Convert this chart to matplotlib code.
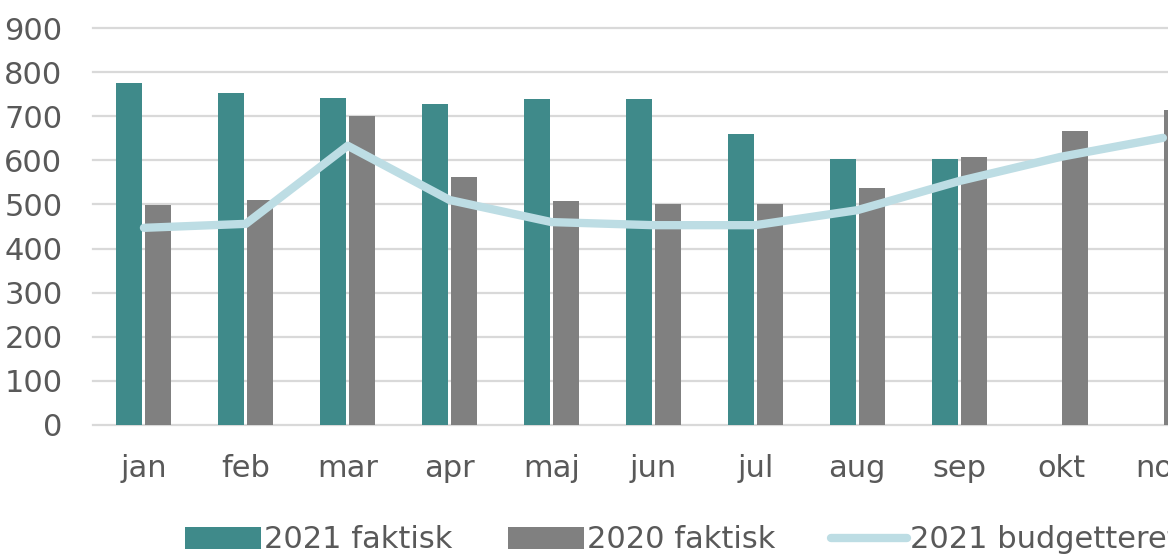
import matplotlib
matplotlib.use("Agg")
import matplotlib.pyplot as plt
import numpy as np

months = ['jan', 'feb', 'mar', 'apr', 'maj', 'jun', 'jul', 'aug', 'sep', 'okt', 'nov']
faktisk_2021 = [775, 753, 741, 728, 739, 739, 660, 603, 603, np.nan, np.nan]
faktisk_2020 = [499, 510, 700, 562, 508, 501, 501, 537, 608, 667, 714]
budget_2021 = [447, 456, 633, 510, 460, 453, 453, 487, 553, 608, 651]

teal = '#3F8A8A'
grey = '#808080'
light = '#BDDDE4'
txt = '#595959'

plt.rcParams['font.family'] = 'DejaVu Sans'
plt.rcParams['font.size'] = 22

fig = plt.figure(figsize=(11.68, 5.58), dpi=100)
ax = fig.add_axes([93/1168, 1 - 425/558, 1 - 93/1168, (425 - 28)/558])

x = np.arange(len(months))
w = 0.255
b1 = ax.bar(x - 0.142, faktisk_2021, w, color=teal, label='2021 faktisk', zorder=2)
b2 = ax.bar(x + 0.142, faktisk_2020, w, color=grey, label='2020 faktisk', zorder=2)
l1, = ax.plot(x, budget_2021, color=light, lw=6, solid_capstyle='round',
              label='2021 budgetteret', zorder=3)

ax.set_ylim(0, 900)
ax.set_xlim(-0.5, 10.05)
ax.set_yticks(range(0, 901, 100))
ax.set_xticks(x)
ax.set_xticklabels(months)
ax.grid(axis='y', color='#D9D9D9', lw=1.6, zorder=0)
for gl in ax.get_ygridlines():
    gl.set_clip_on(False)
ax.set_axisbelow(True)
for s in ax.spines.values():
    s.set_visible(False)
ax.tick_params(length=0, colors=txt, labelsize=22)
ax.tick_params(axis='y', pad=22)
ax.tick_params(axis='x', pad=21)

fig.legend(handles=[b1, b2, l1], loc='center left',
           bbox_to_anchor=(185/1168, 1 - 540/558),
           ncol=3, frameon=False, handlelength=2.5, handletextpad=0.1,
           columnspacing=1.8, borderpad=0, borderaxespad=0, labelcolor=txt,
           fontsize=22)

fig.savefig('out.png', dpi=100)
